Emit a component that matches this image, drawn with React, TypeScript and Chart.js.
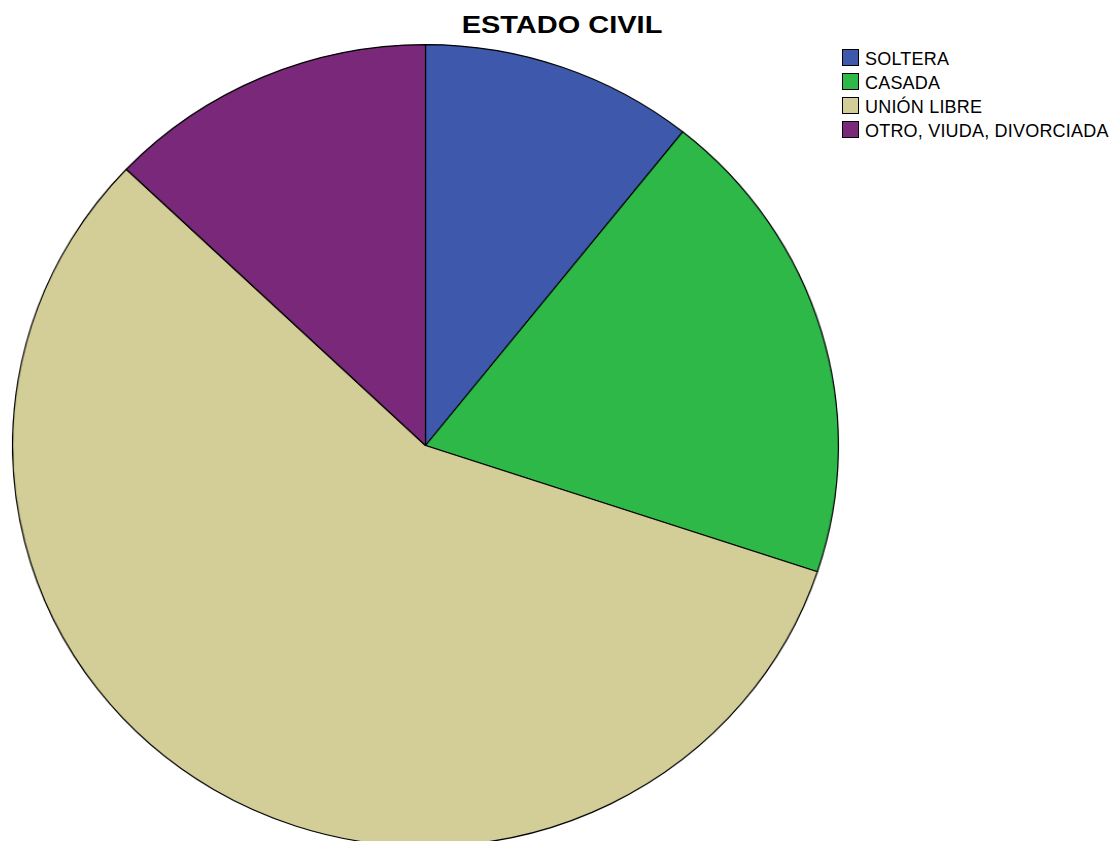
import React, { useEffect, useRef } from "react";
import { Chart, registerables } from "chart.js";

Chart.register(...registerables);

const title = "ESTADO CIVIL";
const categories = ["SOLTERA", "CASADA", "UNIÓN LIBRE", "OTRO, VIUDA, DIVORCIADA"];
const percentages = [10.7, 19.4, 57.0, 12.9];
const colors = ["#3E58AC", "#2EB848", "#D3CE97", "#7A287A"];

export default function App() {
  const canvasRef = useRef<HTMLCanvasElement | null>(null);

  useEffect(() => {
    if (!canvasRef.current) return;
    const chart = new Chart(canvasRef.current, {
      type: "pie",
      data: {
        labels: categories,
        datasets: [
          {
            data: percentages,
            backgroundColor: colors,
            borderColor: "#000000",
            borderWidth: 1.2,
            hoverOffset: 0,
          },
        ],
      },
      options: {
        animation: false,
        responsive: false,
        maintainAspectRatio: false,
        layout: { padding: 0 },
        events: [],
        plugins: {
          legend: { display: false },
          tooltip: { enabled: false },
          title: { display: false },
        },
      },
    });
    return () => chart.destroy();
  }, []);

  return (
    <div
      style={{
        position: "fixed",
        left: 0,
        top: 0,
        width: 1112,
        height: 841,
        overflow: "hidden",
        background: "#ffffff",
        fontFamily: "'Liberation Sans', Arial, sans-serif",
      }}
    >
      <div
        style={{
          position: "absolute",
          left: 24,
          top: 44,
          width: 803,
          height: 803,
          transform: "scaleX(1.03)",
          transformOrigin: "center center",
        }}
      >
        <canvas ref={canvasRef} width={803} height={803} style={{ width: 803, height: 803 }} />
      </div>
      <div
        style={{
          position: "absolute",
          left: 462,
          top: 14,
          width: 200,
          textAlign: "center",
          fontSize: 23,
          lineHeight: "23px",
          fontWeight: "bold",
          color: "#000",
          whiteSpace: "nowrap",
          transform: "scaleX(1.26)",
          transformOrigin: "center center",
        }}
      >
        {title}
      </div>
      <div style={{ position: "absolute", left: 842, top: 47 }}>
        {categories.map((c, i) => (
          <div key={c} style={{ position: "relative", height: 24, width: 270 }}>
            <div
              style={{
                position: "absolute",
                left: 0,
                top: 2,
                width: 15,
                height: 15,
                border: "1px solid #000",
                background: colors[i],
              }}
            />
            <div
              style={{
                position: "absolute",
                left: 23,
                top: 0,
                fontSize: 18,
                lineHeight: "24px",
                color: "#000",
                whiteSpace: "nowrap",
                letterSpacing: "0.2px",
              }}
            >
              {c}
            </div>
          </div>
        ))}
      </div>
    </div>
  );
}
